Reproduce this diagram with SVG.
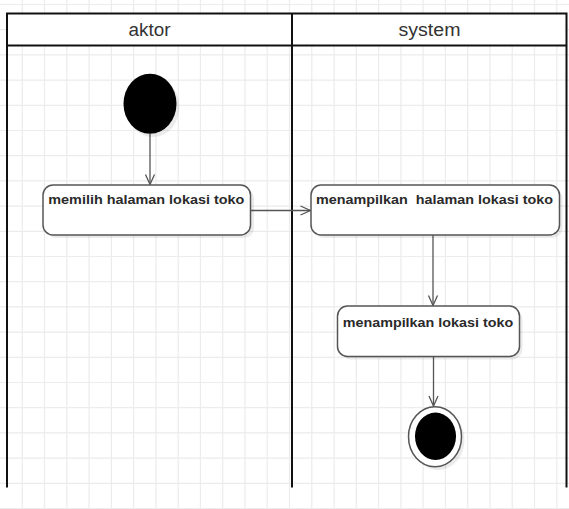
<svg xmlns="http://www.w3.org/2000/svg" width="569" height="509" viewBox="0 0 569 509">
  <defs>
    <style>
      .grid { stroke: #ececec; stroke-width: 1.2; fill: none; }
      .lane { stroke: #111; stroke-width: 2; fill: none; }
      .head { fill: #ffffff; }
      .htxt { font-family: "Liberation Sans", Arial, sans-serif; font-size: 18px; fill: #333; text-anchor: middle; }
      .act { fill: #ffffff; stroke: #555; stroke-width: 1.5; }
      .shadow { fill: #000; opacity: 0.08; }
      .atxt { font-family: "Liberation Sans", Arial, sans-serif; font-size: 13.5px; font-weight: bold; fill: #2a2a2a; }
      .edge { stroke: #555; stroke-width: 1.3; fill: none; marker-end: url(#open); }
    </style>
    <marker id="open" viewBox="0 0 12 12" refX="11" refY="6" markerWidth="12" markerHeight="12" markerUnits="userSpaceOnUse" orient="auto">
      <path d="M1,1.5 L11,6 L1,10.5" fill="none" stroke="#555" stroke-width="1.3"/>
    </marker>
  </defs>

  <rect width="569" height="509" fill="#ffffff"/>

  <!-- background grid -->
  <path class="grid" d="
    M22.3,0V509 M44.5,0V509 M66.8,0V509 M89.1,0V509 M111.4,0V509 M133.6,0V509 M155.9,0V509 M178.2,0V509
    M200.4,0V509 M222.7,0V509 M245,0V509 M267.2,0V509 M289.5,0V509 M311.8,0V509 M334.1,0V509 M356.3,0V509
    M378.6,0V509 M400.9,0V509 M423.1,0V509 M445.4,0V509 M467.7,0V509 M490,0V509 M512.2,0V509 M534.5,0V509 M556.8,0V509
    M0,4.5H569 M0,29.7H569 M0,54.9H569 M0,80.1H569 M0,105.3H569 M0,130.5H569 M0,155.7H569 M0,180.9H569
    M0,206.1H569 M0,231.3H569 M0,256.5H569 M0,281.7H569 M0,306.9H569 M0,332.1H569 M0,357.3H569 M0,382.5H569
    M0,407.7H569 M0,432.9H569 M0,458.1H569 M0,483.3H569 M0,508.5H569"/>

  <!-- swimlanes -->
  <g id="lanes">
    <rect class="head" x="7" y="13.5" width="559.5" height="32"/>
    <path class="lane" d="M7,487.5V13.5H566.5V487.5 M7,45.5H566.5 M292,13.5V487.5"/>
    <text class="htxt" x="149.5" y="36" textLength="42" lengthAdjust="spacingAndGlyphs">aktor</text>
    <text class="htxt" x="429.5" y="36" textLength="62" lengthAdjust="spacingAndGlyphs">system</text>
  </g>

  <!-- connectors -->
  <g id="connectors">
    <path class="edge" d="M150,134V184.5"/>
    <path class="edge" d="M250.5,210.5H310.5"/>
    <path class="edge" d="M433,235V305.5"/>
    <path class="edge" d="M433.5,356.5V406"/>
  </g>

  <g id="start">
    <ellipse class="shadow" cx="153" cy="107" rx="26.5" ry="30"/>
    <ellipse cx="150" cy="103.8" rx="26.5" ry="30" fill="#000"/>
  </g>

  <g id="memilih">
    <rect class="shadow" x="46" y="188" width="208" height="50" rx="10"/>
    <rect class="act" x="43" y="185" width="207.5" height="50" rx="10"/>
    <text class="atxt" x="48.3" y="204.3" textLength="196" lengthAdjust="spacingAndGlyphs">memilih halaman lokasi toko</text>
  </g>

  <g id="menampilkan-halaman">
    <rect class="shadow" x="314" y="188" width="248.5" height="50" rx="10"/>
    <rect class="act" x="311" y="185" width="248.5" height="50" rx="10"/>
    <text class="atxt" x="316" y="204.3" textLength="237" lengthAdjust="spacingAndGlyphs" xml:space="preserve">menampilkan  halaman lokasi toko</text>
  </g>

  <g id="menampilkan-lokasi">
    <rect class="shadow" x="340.5" y="309" width="182" height="50.5" rx="10"/>
    <rect class="act" x="337.5" y="306" width="182" height="50.5" rx="10"/>
    <text class="atxt" x="342.7" y="326.8" textLength="170.5" lengthAdjust="spacingAndGlyphs">menampilkan lokasi toko</text>
  </g>

  <g id="end">
    <ellipse class="shadow" cx="438" cy="440" rx="26.5" ry="30"/>
    <ellipse cx="435" cy="436.7" rx="26.5" ry="30" fill="#fff" stroke="#555" stroke-width="1.5"/>
    <ellipse cx="435.5" cy="436.3" rx="20.5" ry="23.7" fill="#000"/>
  </g>
</svg>
